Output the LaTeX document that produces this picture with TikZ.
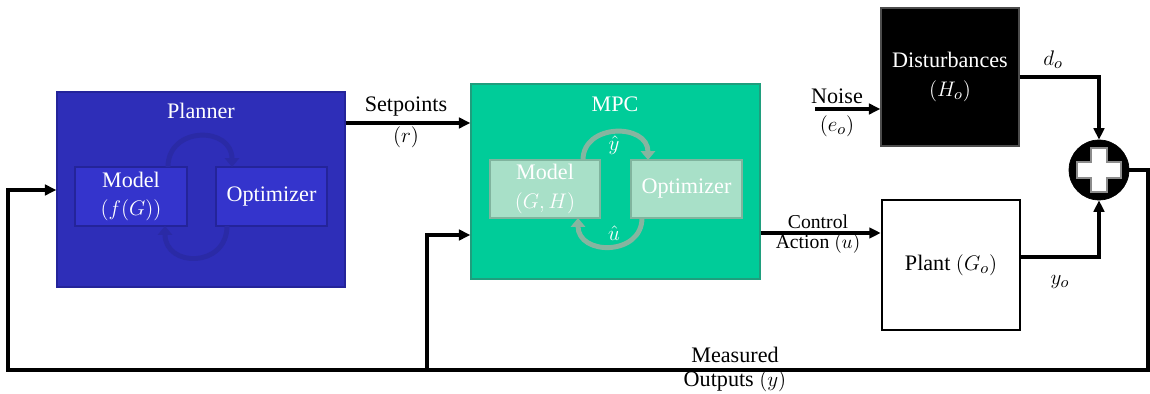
\documentclass[tikz,border=0pt]{standalone}
\usepackage{fontspec}
\setmainfont{Liberation Serif}
\usetikzlibrary{arrows.meta,calc}
\definecolor{plannerblue}{HTML}{2E2EB8}
\definecolor{plannerinner}{HTML}{3434CC}
\definecolor{plannerline}{HTML}{24249A}
\definecolor{plannerarc}{HTML}{2A2AA6}
\definecolor{mpcgreen}{HTML}{00CC99}
\definecolor{mpcline}{HTML}{1F9E7D}
\definecolor{mpcinner}{HTML}{A8E0C8}
\definecolor{mpcinnerline}{HTML}{80B49E}
\definecolor{mpcarc}{HTML}{86B5A0}
\begin{document}
\begin{tikzpicture}[x=0.02cm,y=-0.02cm,
  font=\fontsize{12.6}{16}\selectfont,
  box/.style={rectangle, inner sep=0pt, align=center},
  outerplanner/.style={box, fill=plannerblue, draw=plannerline, line width=0.8pt},
  innerplanner/.style={box, fill=plannerinner, draw=plannerline, line width=1pt, text=white},
  outermpc/.style={box, fill=mpcgreen, draw=mpcline, line width=0.8pt},
  innermpc/.style={box, fill=mpcinner, draw=mpcinnerline, line width=1pt, text=white},
  lbl/.style={inner sep=0pt, align=center},
  smalllbl/.style={lbl, font=\fontsize{11.2}{13}\selectfont},
  conn/.style={line width=1.9pt, -{Triangle[length=6.5pt,width=6pt]}, line join=miter},
  parc/.style={line width=2.8pt, draw=plannerarc, -{Triangle[length=5pt,width=8pt]}},
  marc/.style={line width=2.8pt, draw=mpcarc, -{Triangle[length=5pt,width=8pt]}},
]
\useasboundingbox (0,0) rectangle (1150,394);

% Planner
\node[outerplanner, minimum width=5.76cm, minimum height=3.9cm] (planner) at (201,189.5) {};
\node[lbl, text=white] (plannerT) at (201,111) {Planner};
\node[innerplanner, minimum width=2.24cm, minimum height=1.18cm] (pmodel) at (131,196.5) {Model\\$(f(G))$};
\node[innerplanner, minimum width=2.22cm, minimum height=1.18cm] (popt) at (271.5,196.5) {Optimizer};
\draw[parc] (168,167) .. controls (168,126) and (232,126) .. (232,167);
\draw[parc] (227,226) .. controls (227,268) and (165,268) .. (165,226);

% MPC
\node[outermpc, minimum width=5.78cm, minimum height=3.9cm] (mpc) at (615.5,181.5) {};
\node[lbl, text=white] (mpcT) at (615,104) {MPC};
\node[innermpc, minimum width=2.2cm, minimum height=1.16cm] (mmodel) at (545,189) {Model\\$(G,H)$};
\node[innermpc, minimum width=2.22cm, minimum height=1.16cm] (mopt) at (686.5,189) {Optimizer};
\draw[marc] (583,160) .. controls (583,123) and (648,123) .. (648,160);
\draw[marc] (642,218) .. controls (642,256) and (578,256) .. (578,218);
\node[lbl, text=white] (yhat) at (614,145) {$\hat{y}$};
\node[lbl, text=white] (uhat) at (614,233) {$\hat{u}$};

% Disturbances and plant
\node[box, fill=black, draw=black!70, line width=0.8pt, text=white, minimum width=2.76cm, minimum height=2.76cm] (dist) at (950,77) {Disturbances\\$(H_o)$};
\node[box, fill=white, draw=black, line width=1.5pt, minimum width=2.76cm, minimum height=2.6cm] (plant) at (951,265) {Plant $(G_o)$};

% Summing junction
\node[circle, fill=black, draw=black, minimum size=1.2cm, inner sep=0pt] (sum) at (1099,170) {};
\fill[white, draw=black!45, line width=0.8pt] ($(sum.center)+(-22,-8)$) -- ++(14,0) -- ++(0,-14) -- ++(16,0) -- ++(0,14) -- ++(14,0) -- ++(0,16) -- ++(-14,0) -- ++(0,14) -- ++(-16,0) -- ++(0,-14) -- ++(-14,0) -- cycle;

% Coordinates
\coordinate (ySP) at (0,123);
\coordinate (yCA) at (0,233);
\coordinate (yMI) at (0,235);
\coordinate (yPI) at (0,190);
\coordinate (yBot) at (0,370);
\coordinate (yYo) at (0,257);
\coordinate (xRight) at (1148,0);
\coordinate (xLeft) at (8,0);
\coordinate (xBranch) at (427,0);
\coordinate (noiseIn) at (815,109);

% Connectors
\draw[conn] (planner.east |- ySP) -- (mpc.west |- ySP);
\draw[conn] (mpc.east |- yCA) -- (plant.west |- yCA);
\draw[conn] (noiseIn) -- (dist.west |- noiseIn);
\draw[conn] (dist.east) -- (dist.east -| sum.north) -- (sum.north);
\draw[conn] (plant.east |- yYo) -- (sum.south |- yYo) -- (sum.south);
\draw[conn] (sum.east) -- (sum.east -| xRight) -- (xRight |- yBot) -- (xLeft |- yBot) -- (xLeft |- yPI) -- (planner.west |- yPI);
\draw[conn] (xBranch |- yBot) -- (xBranch |- yMI) -- (mpc.west |- yMI);

% Labels
\node[lbl] (setpL) at (406,107) {Setpoints};
\node[lbl] (rL) at (406,137) {$(r)$};
\node[lbl] (noiseL) at (837,96) {Noise};
\node[lbl] (eL) at (837,126) {$(e_o)$};
\node[smalllbl] (ctrlL) at (818,222) {Control};
\node[smalllbl] (actL) at (818,244) {Action $(u)$};
\node[lbl] (doL) at (1053,60) {$d_o$};
\node[lbl] (yoL) at (1060,282) {$y_o$};
\node[lbl] (measL) at (735,355) {Measured};
\node[lbl] (outL) at (735,381) {Outputs $(y)$};
\end{tikzpicture}
\end{document}
